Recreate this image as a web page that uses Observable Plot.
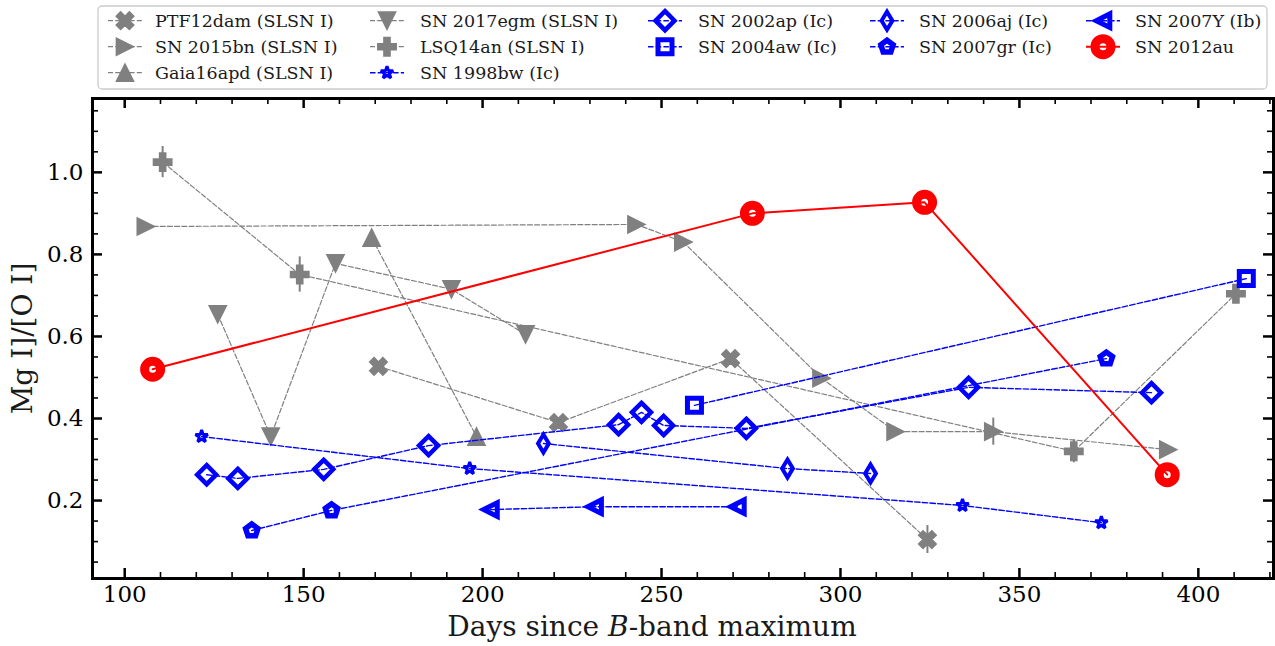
<!DOCTYPE html>
<html><head><meta charset="utf-8">
<script src="https://cdn.jsdelivr.net/npm/d3@7"></script>
<script src="https://cdn.jsdelivr.net/npm/@observablehq/plot@0.6"></script>
<style>body{margin:0;background:#fff;} svg{display:block;}</style>
</head><body><div id="legend"></div><div id="chart"></div>
<script>
// ---------------- DATA ----------------
const seriesNames = ["PTF12dam (SLSN I)", "SN 2015bn (SLSN I)", "Gaia16apd (SLSN I)", "SN 2017egm (SLSN I)",
  "LSQ14an (SLSN I)", "SN 1998bw (Ic)", "SN 2002ap (Ic)", "SN 2004aw (Ic)", "SN 2006aj (Ic)",
  "SN 2007gr (Ic)", "SN 2007Y (Ib)", "SN 2012au"];

const ptf12dam_days  = [170.9, 221.2, 269.3, 324.3];
const ptf12dam_ratio = [0.527, 0.390, 0.546, 0.105];
const ptf12dam_err   = [0, 0, 0, 0.034];

const sn2015bn_days  = [105.9, 243.0, 256.1, 294.7, 315.4, 342.7, 391.6];
const sn2015bn_ratio = [0.868, 0.873, 0.830, 0.498, 0.368, 0.368, 0.324];
const sn2015bn_err   = [0, 0, 0, 0, 0, 0.033, 0];

const gaia16apd_days  = [169.0, 198.3];
const gaia16apd_ratio = [0.841, 0.356];
const gaia16apd_err   = [0, 0];

const sn2017egm_days  = [126.0, 140.8, 158.9, 191.3, 212.0];
const sn2017egm_ratio = [0.654, 0.356, 0.778, 0.715, 0.605];
const sn2017egm_err   = [0, 0, 0, 0, 0];

const lsq14an_days  = [110.6, 148.9, 365.2, 410.5];
const lsq14an_ratio = [1.025, 0.751, 0.320, 0.704];
const lsq14an_err   = [0.038, 0.043, 0.028, 0.015];

const sn1998bw_days  = [121.5, 196.4, 334.1, 372.9];
const sn1998bw_ratio = [0.356, 0.278, 0.188, 0.146];

const sn2002ap_days  = [122.9, 131.6, 155.6, 184.9, 238.0, 244.4, 250.6, 273.7, 335.8, 386.9];
const sn2002ap_ratio = [0.263, 0.254, 0.276, 0.334, 0.385, 0.415, 0.383, 0.376, 0.476, 0.463];

const sn2004aw_days  = [259.2, 413.4];
const sn2004aw_ratio = [0.432, 0.741];

const sn2006aj_days  = [217.0, 285.2, 308.4];
const sn2006aj_ratio = [0.339, 0.278, 0.266];

const sn2007gr_days  = [135.5, 157.8, 374.3];
const sn2007gr_ratio = [0.127, 0.176, 0.546];

const sn2007Y_days  = [202.2, 231.3, 271.2];
const sn2007Y_ratio = [0.178, 0.185, 0.185];

const sn2012au_days  = [107.8, 275.4, 323.5, 391.3];
const sn2012au_ratio = [0.520, 0.900, 0.927, 0.263];

const allDays   = [ptf12dam_days, sn2015bn_days, gaia16apd_days, sn2017egm_days, lsq14an_days, sn1998bw_days,
  sn2002ap_days, sn2004aw_days, sn2006aj_days, sn2007gr_days, sn2007Y_days, sn2012au_days];
const allRatios = [ptf12dam_ratio, sn2015bn_ratio, gaia16apd_ratio, sn2017egm_ratio, lsq14an_ratio, sn1998bw_ratio,
  sn2002ap_ratio, sn2004aw_ratio, sn2006aj_ratio, sn2007gr_ratio, sn2007Y_ratio, sn2012au_ratio];
const allErrs   = [ptf12dam_err, sn2015bn_err, gaia16apd_err, sn2017egm_err, lsq14an_err];

const xTicks = [100, 150, 200, 250, 300, 350, 400];
const xMinor = [110,120,130,140,160,170,180,190,210,220,230,240,260,270,280,290,310,320,330,340,360,370,380,390,410,420];
const yTicks = [0.2, 0.4, 0.6, 0.8, 1.0];
const yMinor = [0.05,0.1,0.15,0.25,0.3,0.35,0.45,0.5,0.55,0.65,0.7,0.75,0.85,0.9,0.95,1.05,1.1,1.15];
const xLabel = "Days since B-band maximum";
const yLabel = "Mg I]/[O I]";

// ---------------- SYMBOLS ----------------
function poly(pts) {
  return {draw(ctx, size) {
    const r = Math.sqrt(size / Math.PI);
    pts.forEach(([x, y], i) => i ? ctx.lineTo(x * r, y * r) : ctx.moveTo(x * r, y * r));
    ctx.closePath();
  }};
}
const a3 = 1/3;
const plusPts = [[-a3,-1],[a3,-1],[a3,-a3],[1,-a3],[1,a3],[a3,a3],[a3,1],[-a3,1],[-a3,a3],[-1,a3],[-1,-a3],[-a3,-a3]];
const symPlus = poly(plusPts);
const symX = poly(plusPts.map(([x,y]) => [(x - y) / Math.SQRT2 * 1.06, (x + y) / Math.SQRT2 * 1.06]));
const symTriRight = poly([[1,0],[-1,1],[-1,-1]]);
const symTriLeft = poly([[-1,0],[1,-1],[1,1]]);
const symTriDown = poly([[0,1],[-1,-1],[1,-1]]);
const symTriUp = poly([[0,-1],[-1,1],[1,1]]);
const symDiamond = poly([[0,-1],[1,0],[0,1],[-1,0]]);
const symThinDiamond = poly([[0,-1],[0.6,0],[0,1],[-0.6,0]]);
const symSquare = poly([[-1,-1],[1,-1],[1,1],[-1,1]]);
const symPentagon = poly(d3.range(5).map(k => [Math.cos(-Math.PI/2 + k*2*Math.PI/5), Math.sin(-Math.PI/2 + k*2*Math.PI/5)]));
const symStar = poly(d3.range(10).map(k => { const rr = k % 2 ? 0.382 : 1; const t = -Math.PI/2 + k*Math.PI/5; return [rr*Math.cos(t), rr*Math.sin(t)]; }));
const symCircle = {draw(ctx, size) { const r = Math.sqrt(size / Math.PI); ctx.moveTo(r, 0); ctx.arc(0, 0, r, 0, 2*Math.PI); }};

const GRAY = "#808080", BLUE = "#0000ff", RED = "#ff0000";
const gDash = "5,2.2", bDash = "5.5,2.2";
const styles = [
  {color: GRAY, symbol: symX,          r: 8.8, sw: 1.5, fill: GRAY, lw: 1.2, dash: gDash, join: "miter"},
  {color: GRAY, symbol: symTriRight,   r: 8.6, sw: 1.5, fill: GRAY, lw: 1.2, dash: gDash, join: "miter"},
  {color: GRAY, symbol: symTriUp,      r: 8.6, sw: 1.5, fill: GRAY, lw: 1.2, dash: gDash, join: "miter"},
  {color: GRAY, symbol: symTriDown,    r: 8.6, sw: 1.5, fill: GRAY, lw: 1.2, dash: gDash, join: "miter"},
  {color: GRAY, symbol: symPlus,       r: 9.2, sw: 1.5, fill: GRAY, lw: 1.2, dash: gDash, join: "miter"},
  {color: BLUE, symbol: symStar,       r: 6.5, sw: 3,   fill: "none", lw: 1.4, dash: bDash, join: "bevel"},
  {color: BLUE, symbol: symDiamond,    r: 9.5, sw: 4.5, fill: "none", lw: 1.4, dash: bDash, join: "miter"},
  {color: BLUE, symbol: symSquare,     r: 7,   sw: 5,   fill: "none", lw: 1.4, dash: bDash, join: "miter"},
  {color: BLUE, symbol: symThinDiamond,r: 9,   sw: 4,   fill: "none", lw: 1.4, dash: bDash, join: "miter"},
  {color: BLUE, symbol: symPentagon,   r: 6.5, sw: 5.5, fill: "none", lw: 1.4, dash: bDash, join: "miter"},
  {color: BLUE, symbol: symTriLeft,    r: 6.8, sw: 5,   fill: "none", lw: 1.4, dash: bDash, join: "miter"},
  {color: RED,  symbol: symCircle,     r: 8,   sw: 9,   fill: "none", lw: 2,   dash: null,  join: "round"}
];
const FONT = "DejaVu Serif";

// ---------------- LEGEND ----------------
const legendCol = [0,0,0,1,1,1,2,2,3,3,4,4];
const legendRow = [0,1,2,0,1,2,0,1,0,1,0,1];
const colMarkerX = [125, 387, 665, 887, 1103];
const colTextX = [155, 420, 698, 919, 1135];
const rowY = [20.7, 46.7, 72.7];
const lsvg = d3.select("#legend").append("svg").attr("width", 1275).attr("height", 92);
lsvg.append("rect").attr("x", 98).attr("y", 6).attr("width", 1169).attr("height", 83).attr("rx", 4)
  .attr("fill", "white").attr("stroke", "#cccccc").attr("stroke-width", 1.3);
seriesNames.forEach((name, i) => {
  const st = styles[i];
  const cx = colMarkerX[legendCol[i]], cy = rowY[legendRow[i]];
  const g = lsvg.append("g");
  g.append("line").attr("x1", cx - 17).attr("x2", cx + 17).attr("y1", cy).attr("y2", cy)
    .attr("stroke", st.color).attr("stroke-width", st.lw).attr("stroke-dasharray", st.dash);
  g.append("path").attr("transform", `translate(${cx},${cy})`)
    .attr("d", d3.symbol().type(st.symbol).size(Math.PI * st.r * st.r)())
    .attr("fill", st.fill).attr("stroke", st.color).attr("stroke-width", st.sw).attr("stroke-linejoin", st.join);
  g.append("text").attr("x", colTextX[legendCol[i]]).attr("y", cy).attr("dy", "0.35em")
    .attr("font-family", FONT).attr("font-size", 17.5).attr("fill", "#1a1a1a").text(name);
});

// ---------------- PLOT ----------------
const W = 1275, H = 554, mT = 6, mB = 68, mL = 92, mR = 2;
const fh = H - mT - mB, fw = W - mL - mR;
const marks = [];
seriesNames.forEach((name, i) => {
  const st = styles[i];
  const errs = allErrs[i] || allDays[i].map(() => 0);
  const rows = allDays[i].map((d, j) => ({name, x: d, y: allRatios[i][j], e: errs[j]}));
  marks.push(Plot.line(rows, {x: "x", y: "y", stroke: st.color, strokeWidth: st.lw, strokeDasharray: st.dash}));
  const er = rows.filter(d => d.e > 0);
  if (er.length) marks.push(Plot.ruleX(er, {x: "x", y1: d => d.y - d.e, y2: d => d.y + d.e, stroke: st.color, strokeWidth: 2}));
  marks.push(Plot.dot(rows, {x: "x", y: "y", r: st.r, symbol: st.symbol, fill: st.fill, stroke: st.color,
    strokeWidth: st.sw, strokeLinejoin: st.join}));
});

const chart = Plot.plot({
  width: W, height: H, marginTop: mT, marginBottom: mB, marginLeft: mL, marginRight: mR,
  style: {fontFamily: FONT, background: "white", color: "black"},
  x: {domain: [91, 421]},
  y: {domain: [0.01, 1.18]},
  marks: [
    ...marks,
    // inward ticks on all sides
    Plot.tickX(xTicks, {x: d => d, insetTop: fh - 10, stroke: "black", strokeWidth: 2.5}),
    Plot.tickX(xTicks, {x: d => d, insetBottom: fh - 10, stroke: "black", strokeWidth: 2.5}),
    Plot.tickX(xMinor, {x: d => d, insetTop: fh - 6, stroke: "black", strokeWidth: 1.6}),
    Plot.tickX(xMinor, {x: d => d, insetBottom: fh - 6, stroke: "black", strokeWidth: 1.6}),
    Plot.tickY(yTicks, {y: d => d, insetRight: fw - 10, stroke: "black", strokeWidth: 2.5}),
    Plot.tickY(yTicks, {y: d => d, insetLeft: fw - 10, stroke: "black", strokeWidth: 2.5}),
    Plot.tickY(yMinor, {y: d => d, insetRight: fw - 6, stroke: "black", strokeWidth: 1.6}),
    Plot.tickY(yMinor, {y: d => d, insetLeft: fw - 6, stroke: "black", strokeWidth: 1.6}),
    Plot.frame({stroke: "black", strokeWidth: 3}),
    Plot.axisX(xTicks, {tickSize: 0, tickPadding: 7, fontSize: 23, label: null, tickFormat: d => String(d)}),
    Plot.axisY(yTicks, {tickSize: 0, tickPadding: 9, fontSize: 23, label: null, tickFormat: d => d.toFixed(1)}),
    Plot.text([xLabel], {text: d => d, frameAnchor: "bottom", dx: -31, dy: 49, fontSize: 28, lineAnchor: "middle", fill: "#1a1a1a"}),
    Plot.text([yLabel], {text: d => d, frameAnchor: "left", dx: -69, rotate: -90, fontSize: 28, lineAnchor: "middle", textAnchor: "middle", fill: "#1a1a1a"})
  ]
});
chart.querySelectorAll("text").forEach(t => {
  if (t.textContent === xLabel) {
    t.innerHTML = 'Days since <tspan font-style="italic">B</tspan>-band maximum';
  }
});
document.getElementById("chart").appendChild(chart);
</script></body></html>
